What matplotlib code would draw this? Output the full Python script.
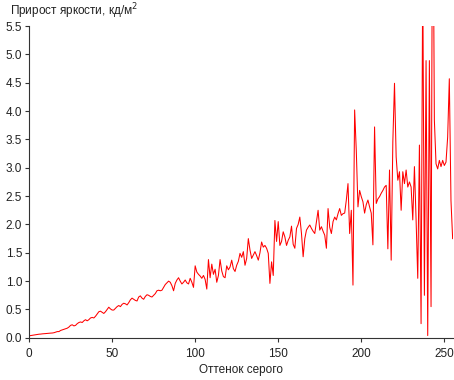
import numpy as np
import matplotlib
matplotlib.use('Agg')
import matplotlib.pyplot as plt

plt.rcParams['font.family'] = ['Liberation Sans', 'DejaVu Sans']

# оттенок серого 0..255 и прирост яркости (кд/м2)
gray_levels = list(range(256))
increment = [
    0.035, 0.04, 0.045, 0.05, 0.055, 0.06, 0.064, 0.066, 0.07, 0.072,
    0.075, 0.078, 0.08, 0.083, 0.085, 0.09, 0.10, 0.11, 0.11, 0.13,
    0.14, 0.15, 0.16, 0.17, 0.19, 0.22, 0.23, 0.21, 0.22, 0.25,
    0.27, 0.28, 0.27, 0.30, 0.32, 0.30, 0.32, 0.35, 0.36, 0.35,
    0.38, 0.42, 0.46, 0.47, 0.45, 0.43, 0.46, 0.50, 0.54, 0.51,
    0.49, 0.49, 0.52, 0.55, 0.57, 0.55, 0.59, 0.61, 0.60, 0.58,
    0.62, 0.67, 0.70, 0.68, 0.66, 0.65, 0.72, 0.74, 0.70, 0.68,
    0.73, 0.76, 0.75, 0.73, 0.72, 0.75, 0.78, 0.83, 0.84, 0.83,
    0.84, 0.89, 0.94, 0.97, 1.00, 0.98, 0.92, 0.83, 0.96, 1.02,
    1.06, 1.00, 0.95, 0.98, 1.02, 0.97, 0.95, 1.05, 0.98, 0.89,
    1.27, 1.16, 1.12, 1.09, 1.05, 1.10, 1.03, 0.86, 1.38, 1.06,
    1.30, 1.12, 1.21, 0.98, 1.10, 1.38, 1.18, 1.08, 1.06, 1.27,
    1.20, 1.25, 1.37, 1.22, 1.17, 1.28, 1.35, 1.49, 1.42, 1.52,
    1.28, 1.40, 1.75, 1.55, 1.40, 1.46, 1.52, 1.45, 1.37, 1.50,
    1.69, 1.60, 1.63, 1.58, 1.49, 0.96, 1.34, 1.10, 2.07, 1.70,
    2.05, 1.63, 1.70, 1.87, 1.78, 1.63, 1.72, 1.78, 1.97, 1.65,
    1.58, 1.93, 2.00, 2.13, 1.84, 1.43, 1.75, 1.90, 1.95, 1.99,
    1.93, 1.88, 1.84, 2.05, 2.25, 1.90, 1.96, 1.88, 1.81, 1.58,
    2.28, 1.95, 1.84, 2.05, 2.13, 2.08, 2.19, 2.28, 2.16, 2.19,
    2.20, 2.43, 2.72, 1.84, 2.25, 0.93, 4.02, 3.30, 2.31, 2.60,
    2.49, 2.40, 2.20, 2.35, 2.43, 2.31, 2.20, 1.64, 3.72, 2.37,
    2.45, 2.49, 2.55, 2.60, 2.66, 2.69, 1.57, 2.96, 1.37, 3.46,
    4.49, 3.19, 2.78, 2.93, 2.25, 2.93, 2.72, 2.96, 2.66, 2.75,
    2.66, 2.08, 3.02, 2.08, 1.05, 3.40, 0.25, 6.50, 0.75, 4.89,
    0.04, 4.89, 0.55, 9.00, 3.84, 3.07, 2.98, 3.13, 3.02, 3.13,
    3.04, 3.10, 3.54, 4.57, 2.42, 1.75,
]

x_ticks = [0, 50, 100, 150, 200, 250]
y_ticks = [0.0, 0.5, 1.0, 1.5, 2.0, 2.5, 3.0, 3.5, 4.0, 4.5, 5.0, 5.5]

fig = plt.figure(figsize=(4.54, 3.80), dpi=100)
ax = fig.add_axes([0.064, 0.111, 0.933, 0.8205])

ax.plot(gray_levels, increment, color='#ff0000', lw=0.75)

ax.set_xlim(0, 255)
ax.set_ylim(0, 5.5)
ax.set_xticks(x_ticks)
ax.set_yticks(y_ticks)
ax.set_yticklabels([f'{v:.1f}' for v in y_ticks])

for s in ['top', 'right']:
    ax.spines[s].set_visible(False)
for s in ['left', 'bottom']:
    ax.spines[s].set_color('#333333')
    ax.spines[s].set_linewidth(0.8)

ax.tick_params(direction='out', length=3, width=0.8, colors='#333333',
               labelsize=8.5, labelcolor='#222222', pad=2)
ax.tick_params(axis='x', pad=4)

ax.set_xlabel('Оттенок серого', fontsize=8.5, color='#222222', labelpad=3)
fig.text(0.022, 0.996, 'Прирост яркости, кд/м$^2$', fontsize=8.5,
         color='#222222', ha='left', va='top')

fig.savefig('out.png', dpi=100)
